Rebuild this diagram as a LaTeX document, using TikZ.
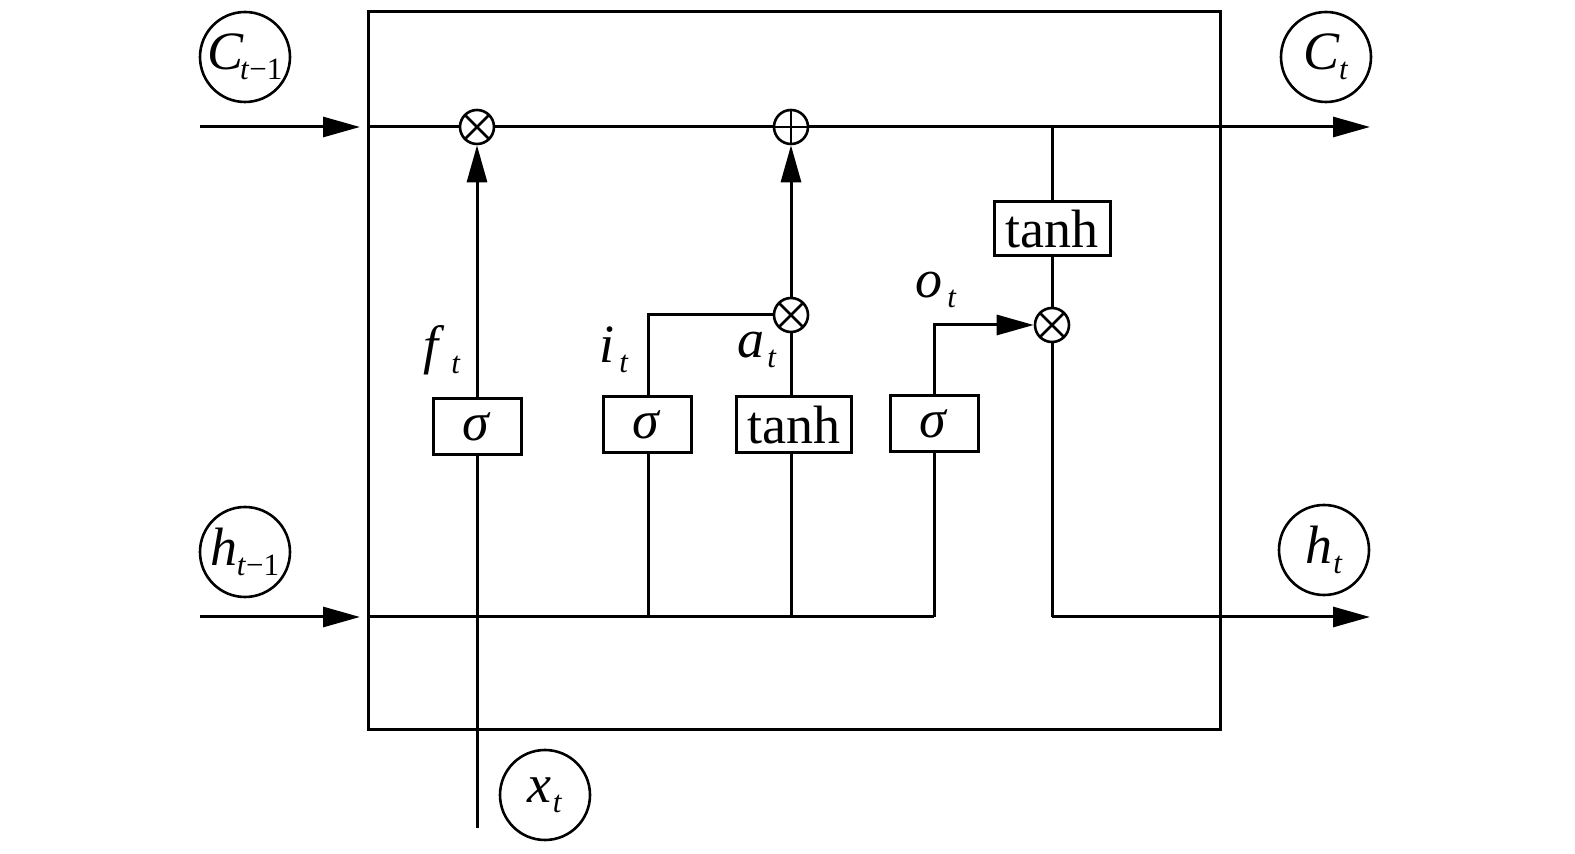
\documentclass[tikz,border=0pt]{standalone}
\usepackage{fontspec}
\setmainfont{Liberation Serif}
\usetikzlibrary{arrows.meta}
\newcommand\vsub[2]{\textit{#1}\kern0.5pt\raisebox{-5pt}{\fontsize{15.5}{18}\selectfont #2}}
\begin{document}
\begin{tikzpicture}[x=0.5pt,y=-0.5pt, line width=1.5pt,
  every node/.style={font=\fontsize{27}{30}\selectfont},
  gate/.style={draw, line width=1.5pt, minimum height=28pt, inner sep=0pt, fill=white},
  io/.style={draw, circle, line width=1.3pt, minimum size=45pt, inner sep=0pt},
  opx/.style={draw, circle, minimum size=17pt, inner sep=0pt, fill=white, line width=1.3pt,
    path picture={\draw[line width=1.3pt] (path picture bounding box.north west) -- (path picture bounding box.south east)
      (path picture bounding box.north east) -- (path picture bounding box.south west);}},
  opp/.style={draw, circle, minimum size=17pt, inner sep=0pt, fill=white, line width=1.3pt,
    path picture={\draw[line width=1.3pt] (path picture bounding box.north) -- (path picture bounding box.south)
      (path picture bounding box.east) -- (path picture bounding box.west);}},
  arr/.style={-{Triangle[length=18.5pt,width=10pt]}},
  lbl/.style={inner sep=0pt}]
\useasboundingbox (0,0) rectangle (1575,854);
% cell frame
\draw (368,12) rectangle (1220,730);
% io circles
\node[io] (cprev) at (245,57) {\vsub{C}{\kern-2.5pt\textit{t}−1}};
\node[io] (hprev) at (245,552) {\vsub{h}{\kern-1pt\textit{t}−1}};
\node[io] (cnext) at (1326,57) {\vsub{C}{\kern-1pt\textit{t}}};
\node[io] (hnext) at (1324,550) {\vsub{h}{\textit{t}}};
\node[io] (xin) at (545,795) {\vsub{x}{\textit{t}}};
% gates
\node[gate, minimum width=44pt] (fsig) at (477,427) {\textit{σ}};
\node[gate, minimum width=44pt] (isig) at (647,425) {\textit{σ}};
\node[gate, minimum width=57.5pt] (atanh) at (794,425) {tanh};
\node[gate, minimum width=44pt] (osig) at (934,424) {\textit{σ}};
\node[gate, minimum width=58pt, minimum height=27pt] (ctanh) at (1052,229) {tanh};
% operators
\node[opx] (ftimes) at (477,127) {};
\node[opp] (plus) at (791,127) {};
\node[opx] (atimes) at (791,315) {};
\node[opx] (otimes) at (1052,325) {};
% labels
\node[lbl] (flab) at (442,350) {\vsub{f}{\kern3pt\textit{t}}};
\node[lbl] (ilab) at (614,350) {\vsub{i}{\kern2pt\textit{t}}};
\node[lbl] (alab) at (757,350) {\vsub{a}{\kern1pt\textit{t}}};
\node[lbl] (olab) at (936,290) {\vsub{o}{\kern2pt\textit{t}}};
% coordinates
\coordinate (cin0) at (200,127);
\coordinate (cin1) at (360,127);
\coordinate (cedge) at (368,127);
\coordinate (cjoin) at (1052,127);
\coordinate (cout) at (1370,127);
\coordinate (hin0) at (200,617);
\coordinate (hin1) at (360,617);
\coordinate (hedge) at (368,617);
\coordinate (ijoin) at (648,617);
\coordinate (ajoin) at (791,617);
\coordinate (ojoin) at (934,617);
\coordinate (xbot) at (477,828);
\coordinate (ibend) at (648,315);
\coordinate (obend) at (934,325);
\coordinate (hbend) at (1052,617);
\coordinate (hout) at (1370,617);
% cell state line
\draw[arr] (cin0) -- (cin1);
\draw (cedge) -- (ftimes) -- (plus) -- (cjoin);
\draw[arr] (cjoin) -- (cout);
\draw (cjoin) -- (ctanh.north);
\draw (ctanh.south) -- (otimes.north);
% hidden input line
\draw[arr] (hin0) -- (hin1);
\draw (hedge) -- (ojoin);
% x input
\draw (xbot) -- (fsig.south);
\draw[arr] (fsig.north) -- (ftimes.south);
% input gate
\draw (ijoin) -- (ijoin |- isig.south);
\draw (ibend |- isig.north) -- (ibend) -- (atimes.west);
\draw (ajoin) -- (ajoin |- atanh.south);
\draw (atimes.south |- atanh.north) -- (atimes.south);
\draw[arr] (atimes.north) -- (plus.south);
% output gate
\draw (ojoin) -- (osig.south);
\draw[arr] (osig.north) -- (obend) -- (otimes.west);
\draw (otimes.south) -- (hbend);
\draw[arr] (hbend) -- (hout);
\end{tikzpicture}
\end{document}
